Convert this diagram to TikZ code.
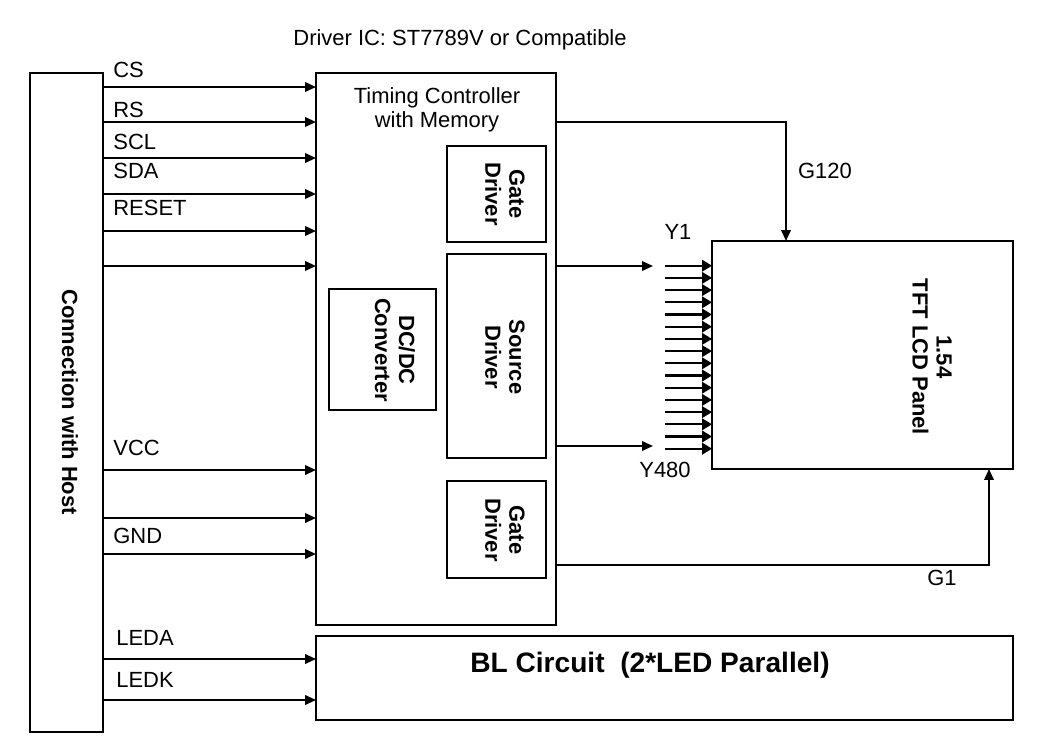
\documentclass[tikz,border=0pt]{standalone}
\usepackage{fontspec}
\setmainfont{Liberation Sans}
\usetikzlibrary{arrows.meta}

\begin{document}
\begin{tikzpicture}[x=0.02cm, y=-0.02cm,
  box/.style={rectangle, draw, line width=1.6pt, inner sep=0pt, outer sep=0pt},
  vlabel/.style={rotate=-90, align=center, inner sep=0pt, font=\fontsize{12.5}{13.6}\selectfont\bfseries},
  txt/.style={inner sep=0pt, align=center, font=\fontsize{12.5}{13.6}\selectfont},
  sigtxt/.style={anchor=base west, inner sep=0pt, font=\fontsize{12.5}{14}\selectfont},
  sig/.style={-{Triangle[length=2.2mm, width=1.9mm]}, line width=1.2pt},
  fan/.style={-{Triangle[length=2mm, width=2.3mm]}, line width=1.2pt},
]
\useasboundingbox (0,0) rectangle (1038,737);

% === BLOCKS ===
\node[box, minimum width=1.46cm, minimum height=13.18cm] (host) at (66.5,402.5) {};
\node[box, line width=0.9pt, minimum width=4.8cm, minimum height=11.04cm] (ic) at (436,349) {};
\node[box, minimum width=1.98cm, minimum height=1.92cm] (gtop) at (496.5,194) {};
\node[box, minimum width=1.98cm, minimum height=4.08cm] (src) at (496.5,356) {};
\node[box, minimum width=2.14cm, minimum height=2.42cm] (dcdc) at (382.5,349.5) {};
\node[box, minimum width=1.98cm, minimum height=1.94cm] (gbot) at (496.5,529.5) {};
\node[box, minimum width=6.02cm, minimum height=4.56cm] (panel) at (862.5,355) {};
\node[box, minimum width=13.94cm, minimum height=1.68cm] (bl) at (664.5,678) {};

% === TEXTS ===
\node[txt] (title) at (460,40) {Driver IC: ST7789V or Compatible};
\node[txt] (tcon) at (437,110) {Timing Controller\\with Memory};
\node[vlabel] (hostlbl) at (70,402) {Connection with Host};
\node[vlabel] (gtoplbl) at (505,194) {Gate\\Driver};
\node[vlabel] (srclbl) at (505,357) {Source\\Driver};
\node[vlabel] (dcdclbl) at (395,350) {DC/DC\\Converter};
\node[vlabel] (gbotlbl) at (505,530) {Gate\\Driver};
\node[vlabel] (panellbl) at (932,357) {1.54\\TFT LCD Panel};
\node[inner sep=0pt, font=\fontsize{16}{18}\selectfont\bfseries] (bllbl) at (650,665) {BL Circuit\ \ (2*LED Parallel)};

% === HOST SIGNALS ===
\draw[sig] (host.east |- 0,87) -- (ic.west |- 0,87);
\draw[sig] (host.east |- 0,122) -- (ic.west |- 0,122);
\draw[sig] (host.east |- 0,158) -- (ic.west |- 0,158);
\draw[sig] (host.east |- 0,194) -- (ic.west |- 0,194);
\draw[sig] (host.east |- 0,231) -- (ic.west |- 0,231);
\draw[sig] (host.east |- 0,266) -- (ic.west |- 0,266);
\draw[sig] (host.east |- 0,470) -- (ic.west |- 0,470);
\draw[sig] (host.east |- 0,518) -- (ic.west |- 0,518);
\draw[sig] (host.east |- 0,554) -- (ic.west |- 0,554);
\draw[sig] (host.east |- 0,659) -- (bl.west |- 0,659);
\draw[sig] (host.east |- 0,700) -- (bl.west |- 0,700);

\node[sigtxt] (cs) at (113,77) {CS};
\node[sigtxt] (rs) at (113,117) {RS};
\node[sigtxt] (scl) at (113,149) {SCL};
\node[sigtxt] (sda) at (113,178) {SDA};
\node[sigtxt] (reset) at (113,215) {RESET};
\node[sigtxt] (vcc) at (113,455) {VCC};
\node[sigtxt] (gnd) at (113,543) {GND};
\node[sigtxt] (leda) at (116,645) {LEDA};
\node[sigtxt] (ledk) at (116,687) {LEDK};

% === PANEL SIDE ===
\coordinate (yfirst) at (653,266);
\coordinate (ylast) at (653,446);
\draw[sig] (ic.east |- yfirst) -- (yfirst);
\draw[sig] (ic.east |- ylast) -- (ylast);
\foreach \i [evaluate=\i as \yy using 265.7+12.2*\i] in {0,...,15}
  \draw[fan] (665,\yy) -- (panel.west |- 0,\yy);

\draw[sig] (ic.east |- 0,122) -| (786,0 |- panel.north);
\draw[sig] (ic.east |- 0,565) -| (989,0 |- panel.south);

\node[txt] (g120) at (825,171) {G120};
\node[txt] (y1) at (678,232) {Y1};
\node[txt] (y480) at (665,470) {Y480};
\node[txt] (g1) at (942,578) {G1};
\end{tikzpicture}
\end{document}
